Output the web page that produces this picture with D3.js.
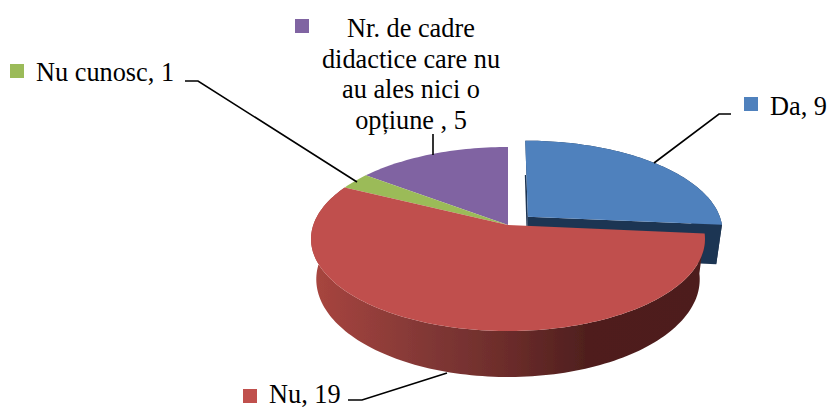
<!DOCTYPE html>
<html><head><meta charset="utf-8">
<script src="https://cdn.jsdelivr.net/npm/d3@7"></script>
<style>html,body{margin:0;padding:0;background:#fff}svg{display:block}text{font-family:"Liberation Serif",serif;font-size:26.3px;fill:#000}</style>
</head><body><svg id="c" width="829" height="408"></svg>
<script>
const categories = ["Da", "Nu", "Nu cunosc", "Nr. de cadre didactice care nu au ales nici o opțiune "];
const seriesValues = [9, 19, 1, 5];
const labelLines = [["Da, 9"], ["Nu, 19"], ["Nu cunosc, 1"], ["Nr. de cadre", "didactice care nu", "au ales nici o", "opțiune , 5"]];
const colors = ["#4f81bd", "#c0504d", "#9bbb59", "#8064a2"];
const wallColor = "#1f3552";

const W = 829, H = 408;
const svg = d3.select("#c").attr("viewBox", [0, 0, W, H]);
const cx = 508, cy = 225, k = 0.152, explode = 0.14;
const topX = d3.scaleLinear().domain([0, 1]).range([0, 194.7]);
const topY = d3.scaleLinear().domain([0, 1]).range([0, 89.9]);
const botX = d3.scaleLinear().domain([0, 1]).range([0, 189.5]);
const botY = d3.scaleLinear().domain([0, 1]).range([39.5, 39.5 + 95.4]);

const pie = d3.pie().sort(null).startAngle(0).endAngle(2 * Math.PI);
const arcs = pie(seriesValues);

function project(u, v, level) {
  const w = 1 - k * v;
  const sx = level ? botX : topX, sy = level ? botY : topY;
  return [cx + sx(u / w), cy + sy(v / w)];
}
function offset(a, i) {
  if (i !== 0) return [0, 0];
  const m = (a.startAngle + a.endAngle) / 2;
  return [Math.sin(m) * explode, -Math.cos(m) * explode];
}
function rim(a, i, level, reverse) {
  const [ou, ov] = offset(a, i);
  const n = Math.max(8, Math.ceil((a.endAngle - a.startAngle) * 40));
  const pts = d3.range(n + 1).map(j => {
    const t = a.startAngle + (a.endAngle - a.startAngle) * j / n;
    return project(ou + Math.sin(t), ov - Math.cos(t), level);
  });
  return reverse ? pts.reverse() : pts;
}
function apex(a, i, level) {
  const [ou, ov] = offset(a, i);
  return project(ou, ov, level);
}
const line = d3.line().curve(d3.curveLinearClosed);

const defs = svg.append("defs");
defs.append("filter").attr("id", "soft").attr("x", "-5%").attr("y", "-5%").attr("width", "110%").attr("height", "110%")
  .append("feGaussianBlur").attr("stdDeviation", 0.45);
const grad = defs.append("linearGradient").attr("id", "redSide").attr("gradientUnits", "userSpaceOnUse")
  .attr("x1", 314).attr("x2", 704).attr("y1", 0).attr("y2", 0);
[[0, "#a8453f"], [0.3, "#803735"], [0.5, "#6b2c2a"], [0.7, "#4f1f1e"], [1, "#4e1f1d"]]
  .forEach(([o, c]) => grad.append("stop").attr("offset", o).attr("stop-color", c));

const g = svg.append("g").attr("filter", "url(#soft)");

// Exploded slice: walls first, then its top
const da = arcs[0];
g.append("path").attr("fill", wallColor)
  .attr("d", line([apex(da, 0, 0), ...rim(da, 0, 0), ...rim(da, 0, 1, true), apex(da, 0, 1)]));
g.append("path").attr("fill", wallColor)
  .attr("d", line([apex(da, 0, 0), rim(da, 0, 0).slice(-1)[0], rim(da, 0, 1).slice(-1)[0], apex(da, 0, 1)]));
g.append("path").attr("fill", colors[0])
  .attr("d", line([apex(da, 0, 0), ...rim(da, 0, 0)]));

// Main body wall
g.append("path").attr("fill", "url(#redSide)")
  .attr("d", line([...rim(arcs[1], 1, 0), ...rim(arcs[1], 1, 1, true)]));

[3, 2, 1].forEach(i => {
  g.append("path").attr("fill", colors[i])
    .attr("d", line([apex(arcs[i], i, 0), ...rim(arcs[i], i, 0)]));
});

// Leader lines
const leaderPaths = [
  [[731, 114], [719, 114], [654, 163]],
  [[348, 400], [362, 400], [447, 373]],
  [[185, 81], [198, 81], [357, 182]],
  [[433, 134], [433, 155]]
];
const open = d3.line();
svg.selectAll("path.leader").data(leaderPaths).join("path").attr("class", "leader")
  .attr("d", open).attr("fill", "none").attr("stroke", "#000").attr("stroke-width", 1.6);

// Labels and keys
const keyPos = [[744, 97], [243, 389], [10, 64], [295, 19]];
const textPos = [[770, 115, "start"], [269, 403, "start"], [36, 81, "start"], [411, 37, "middle"]];
categories.forEach((c, i) => {
  svg.append("rect").attr("x", keyPos[i][0]).attr("y", keyPos[i][1]).attr("width", 14).attr("height", 14).attr("fill", colors[i]);
  const t = svg.append("text").attr("x", textPos[i][0]).attr("y", textPos[i][1]).attr("text-anchor", textPos[i][2]);
  labelLines[i].forEach((l, j) => t.append("tspan").attr("x", textPos[i][0]).attr("dy", j ? 30.7 : 0).text(l));
});
</script></body></html>
